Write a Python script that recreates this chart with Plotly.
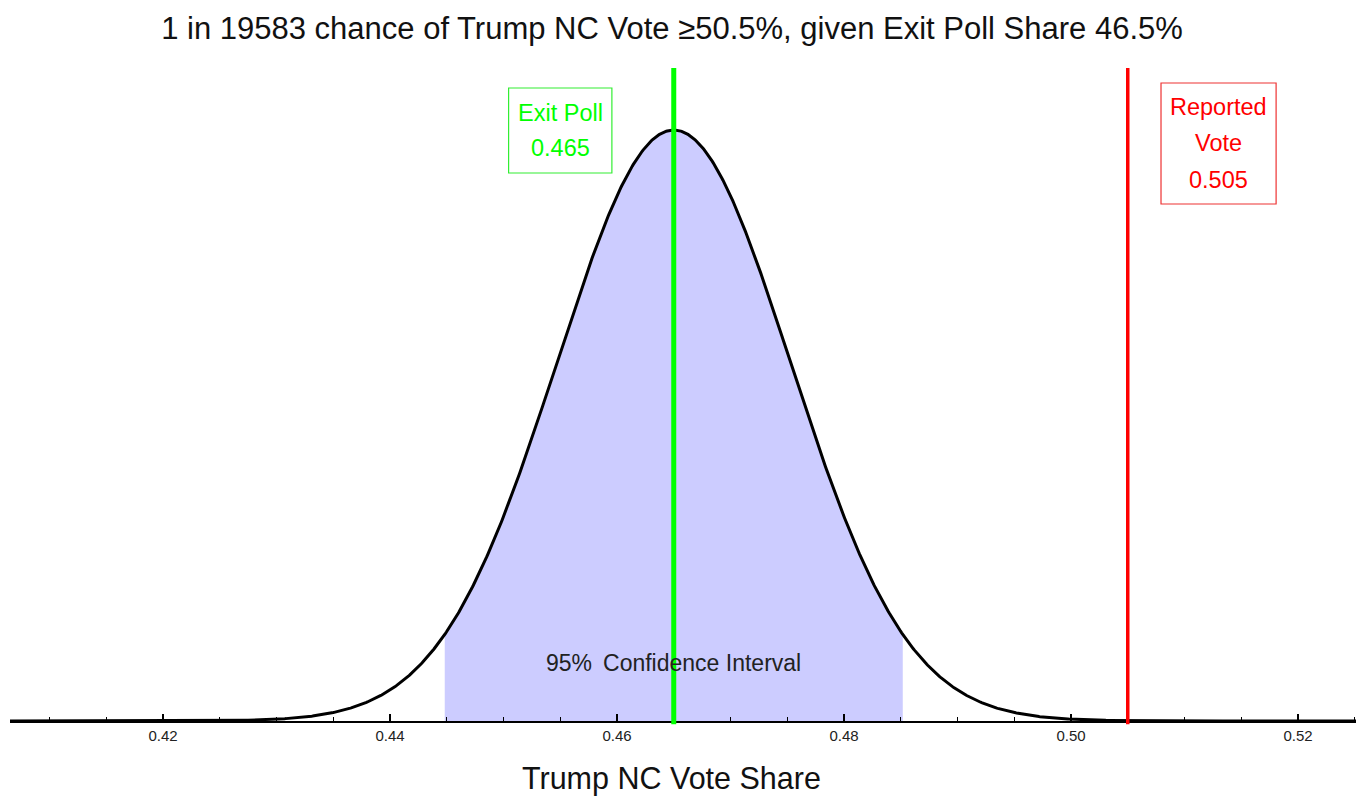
import math
import numpy as np
import plotly.graph_objects as go

# Model inputs shown on the chart
exit_poll_share = 0.465      # exit-poll estimate of Trump share
reported_vote = 0.505        # officially reported Trump share
chance_one_in = 19583        # 1-in-N probability of reaching the reported share
ci_level = 0.95

# Axis ticks
major_ticks = [0.42, 0.44, 0.46, 0.48, 0.50, 0.52]
tick_labels = ["0.42", "0.44", "0.46", "0.48", "0.50", "0.52"]
x_min, x_max = 0.40652, 0.52511


def upper_tail(z):
    return 0.5 * math.erfc(z / math.sqrt(2))


def z_for_tail(p):
    lo, hi = 0.0, 10.0
    for _ in range(200):
        mid = 0.5 * (lo + hi)
        if upper_tail(mid) > p:
            lo = mid
        else:
            hi = mid
    return 0.5 * (lo + hi)


# Standard deviation implied by the stated tail probability
z_reported = z_for_tail(1.0 / chance_one_in)
sigma = (reported_vote - exit_poll_share) / z_reported
z_ci = z_for_tail((1 - ci_level) / 2)
ci_low = exit_poll_share - z_ci * sigma
ci_high = exit_poll_share + z_ci * sigma


def density(x):
    return np.exp(-0.5 * ((x - exit_poll_share) / sigma) ** 2) / (sigma * math.sqrt(2 * math.pi))


xs = np.linspace(x_min, x_max, 1500)
ys = density(xs)
xs_ci = np.linspace(ci_low, ci_high, 600)
ys_ci = density(xs_ci)
peak = density(exit_poll_share)

FONT = "Liberation Sans, Arial, Helvetica, sans-serif"
GREEN = "#00FF00"
RED = "#FF0000"

fig = go.Figure()

# Shaded confidence interval under the curve
fig.add_trace(go.Scatter(
    x=xs_ci, y=ys_ci, mode="lines", fill="tozeroy",
    fillcolor="rgb(204,204,255)", line=dict(width=0, color="rgba(0,0,0,0)"),
    hoverinfo="skip", showlegend=False,
))

# Density curve
fig.add_trace(go.Scatter(
    x=xs, y=ys, mode="lines", line=dict(color="black", width=3),
    hoverinfo="skip", showlegend=False,
))

# Exit-poll and reported-vote markers
fig.add_shape(type="line", xref="x", yref="paper",
              x0=exit_poll_share, x1=exit_poll_share, y0=-0.005, y1=1,
              line=dict(color=GREEN, width=5), layer="above")
fig.add_shape(type="line", xref="x", yref="paper",
              x0=reported_vote, x1=reported_vote, y0=-0.005, y1=1,
              line=dict(color=RED, width=3.5), layer="above")

# Label boxes
exit_label_x = exit_poll_share - 0.01
fig.add_shape(type="rect", xref="x", yref="paper",
              x0=exit_label_x - 0.00455, x1=exit_label_x + 0.00455,
              y0=0.8392, y1=0.9694,
              line=dict(color="#33EE33", width=1.2), fillcolor="white", layer="above")
rep_label_x = reported_vote + 0.008
fig.add_shape(type="rect", xref="x", yref="paper",
              x0=rep_label_x - 0.00507, x1=rep_label_x + 0.00507,
              y0=0.7917, y1=0.9770,
              line=dict(color="#EE3333", width=1.2), fillcolor="white", layer="above")

label_font = dict(family=FONT, size=23.5)
for text, y in [("Exit Poll", 0.9311), (f"{exit_poll_share:.3f}", 0.8775)]:
    fig.add_annotation(x=exit_label_x, y=y, xref="x", yref="paper", text=text,
                       showarrow=False, xanchor="center", yanchor="middle",
                       font=dict(color=GREEN, **label_font))
for text, y in [("Reported", 0.9403), ("Vote", 0.8851), (f"{reported_vote:.3f}", 0.8285)]:
    fig.add_annotation(x=rep_label_x, y=y, xref="x", yref="paper", text=text,
                       showarrow=False, xanchor="center", yanchor="middle",
                       font=dict(color=RED, **label_font))

fig.add_annotation(x=exit_poll_share, y=0.0888, xref="x", yref="paper",
                   text="95%\u2009 Confidence Interval", showarrow=False,
                   xanchor="center", yanchor="middle",
                   font=dict(family=FONT, size=23, color="#222222"))

# Axis title, placed below the tick labels
fig.add_annotation(x=(671 - 10) / 1346, y=-(778 - 721) / 653, xref="paper", yref="paper",
                   text="Trump NC Vote Share", showarrow=False,
                   xanchor="center", yanchor="middle",
                   font=dict(family=FONT, size=30.5, color="#111111"))

title_text = (f"1 in {chance_one_in} chance of Trump NC Vote \u2265{reported_vote * 100:.1f}%, "
              f"given Exit Poll Share {exit_poll_share * 100:.1f}%")

fig.update_layout(
    width=1356, height=797,
    margin=dict(l=10, r=0, t=68, b=76),
    paper_bgcolor="white", plot_bgcolor="white",
    title=dict(text=title_text, x=672 / 1356, xref="container", xanchor="center",
               y=1 - 28 / 797, yref="container", yanchor="middle",
               font=dict(family=FONT, size=31, color="#111111")),
    xaxis=dict(
        range=[x_min, x_max], showgrid=False, zeroline=False,
        showline=True, linecolor="black", linewidth=2,
        tickvals=major_ticks, ticktext=tick_labels,
        ticks="inside", ticklen=7, tickwidth=1.5, tickcolor="black",
        minor=dict(dtick=0.005, tick0=0.42, ticks="inside", ticklen=4,
                   tickwidth=1.2, tickcolor="black", showgrid=False),
        tickfont=dict(family=FONT, size=15, color="#222222"),
        fixedrange=True,
    ),
    yaxis=dict(range=[0, peak * 1.105], visible=False, fixedrange=True),
    showlegend=False,
)

fig.write_html("out.html")
